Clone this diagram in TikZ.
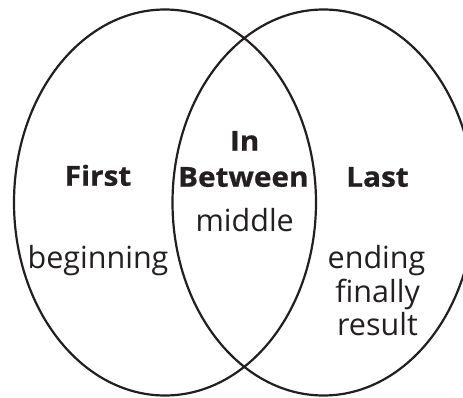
\documentclass[tikz,border=0pt]{standalone}
\usepackage{fontspec}
\setmainfont{Open Sans}[BoldFeatures={FakeStretch=1.08,FakeBold=0.8}]
\usetikzlibrary{shapes.geometric}
\definecolor{ink}{HTML}{231F20}
\tikzset{
  setring/.style={draw=ink, line width=2.2pt, ellipse, minimum width=302pt, minimum height=386pt, inner sep=0pt},
  head/.style={anchor=base, inner sep=0pt, text=ink, font=\fontsize{27.5}{32}\selectfont\bfseries},
  word/.style={anchor=base, inner sep=0pt, text=ink, font=\fontsize{30.5}{34}\selectfont},
}
\begin{document}
\begin{tikzpicture}[x=1pt,y=-1pt]
\useasboundingbox (0,0) rectangle (463,398);
\node[setring] (L) at (165,202.5) {};
\node[setring] (R) at (323.5,202.5) {};
\node[head] (first) at (98,185.7) {First};
\node[word] (beg) at (98,268) {beginning};
\node[head] (in) at (244.7,150.7) {In};
\node[head] (between) at (243.3,186.7) {Between};
\node[word] (middle) at (244.7,231.7) {middle};
\node[head] (last) at (377.5,186.7) {Last};
\node[word] (ending) at (376.5,268) {ending};
\node[word] (finally) at (377.7,302.5) {finally};
\node[word] (result) at (377.5,335) {result};
\end{tikzpicture}
\end{document}
